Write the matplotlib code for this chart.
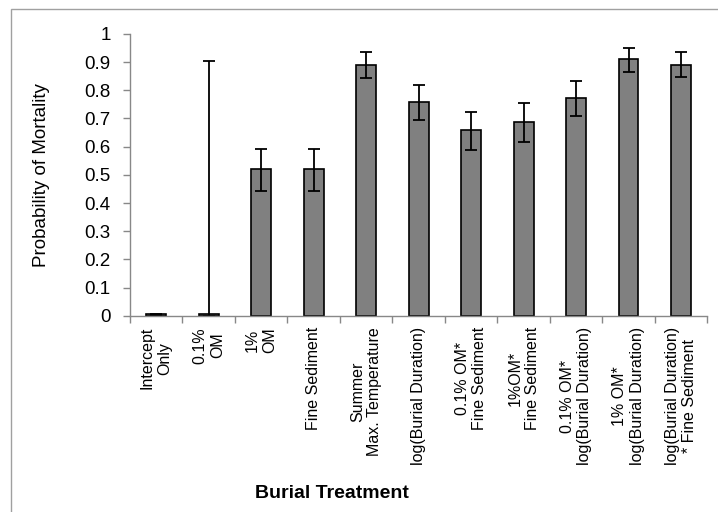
import matplotlib.pyplot as plt
import numpy as np
from matplotlib.patches import Rectangle

# data
treatments = ["Intercept\nOnly", "0.1%\nOM", "1%\nOM", "Fine Sediment",
              "Summer\nMax. Temperature", "log(Burial Duration)",
              "0.1% OM*\nFine Sediment", "1%OM*\nFine Sediment",
              "0.1% OM*\nlog(Burial Duration)", "1% OM*\nlog(Burial Duration)",
              "log(Burial Duration)\n* Fine Sediment"]
mortality = [0.005, 0.008, 0.52, 0.52, 0.89, 0.758, 0.658, 0.687, 0.772, 0.909, 0.891]
err_low = [0.003, 0.008, 0.076, 0.076, 0.046, 0.062, 0.071, 0.072, 0.063, 0.043, 0.043]
err_high = [0.003, 0.897, 0.072, 0.072, 0.044, 0.062, 0.066, 0.066, 0.061, 0.039, 0.046]

plt.rcParams['font.family'] = ['Liberation Sans', 'DejaVu Sans']

fig = plt.figure(figsize=(7.18, 5.12), dpi=100)
ax = fig.add_axes([0.181, 0.383, 0.804, 0.551])

x = np.arange(len(treatments))
ax.bar(x, mortality, width=0.38, color="#808080", edgecolor="black", linewidth=1.2,
       yerr=[err_low, err_high], capsize=4.5,
       error_kw=dict(ecolor="black", elinewidth=1.3, capthick=1.3))

ax.set_xlim(-0.5, len(treatments) - 0.5)
ax.set_ylim(0, 1)
ax.set_yticks(np.arange(0, 1.01, 0.1))
ax.set_yticklabels(["0", "0.1", "0.2", "0.3", "0.4", "0.5", "0.6", "0.7", "0.8", "0.9", "1"],
                   fontsize=13.5)
ax.set_xticks(x)
ax.set_xticklabels(treatments, rotation=90, fontsize=11.5, va="top", ha="center",
                   multialignment="center")
ax.set_xticks(np.arange(-0.5, len(treatments), 1), minor=True)
ax.tick_params(axis="x", which="major", length=0, pad=8)
ax.tick_params(axis="x", which="minor", length=5, color="#888888", width=1)
ax.tick_params(axis="y", length=5, color="#888888", width=1, pad=9)

for side in ["top", "right"]:
    ax.spines[side].set_visible(False)
for side in ["left", "bottom"]:
    ax.spines[side].set_color("#888888")
    ax.spines[side].set_linewidth(1)

ax.set_ylabel("Probability of Mortality", fontsize=13.5)
ax.yaxis.set_label_coords(-0.139, 0.5)
fig.text(332 / 718, 1 - 493 / 512, "Burial Treatment", fontsize=14, fontweight="bold",
         ha="center", va="center")

# thin frame around the picture
fig.patches.append(Rectangle((11 / 718, -0.1), 1.2, 1.1 - 9 / 512, transform=fig.transFigure,
                             fill=False, edgecolor="#a0a0a0", linewidth=1))

fig.savefig("out.png", dpi=100)
